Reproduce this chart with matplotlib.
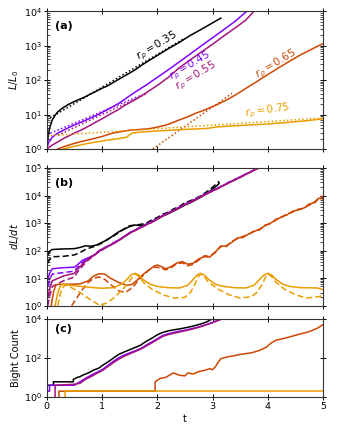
import numpy as np
import matplotlib
matplotlib.use("Agg")
import matplotlib.pyplot as plt

# colours picked off the gnuplot map, one per r_rho
radii = ["0.35", "0.45", "0.55", "0.65", "0.75"]
renk = [plt.cm.gnuplot(v) for v in [0.0, 0.25, 0.42, 0.65, 0.85]]

# ---- panel (a): L/L0 ----
ta_035 = [0, 0.02, 0.05, 0.1, 0.15, 0.2, 0.3, 0.4, 0.5, 0.6, 0.7, 0.8, 0.9, 1.0, 1.1, 1.2, 1.3, 1.4,
          1.5, 1.6, 1.7, 1.8, 2.0, 2.2, 2.4, 2.6, 2.8, 3.0, 3.15]
La_035 = [1, 2, 4, 7, 9.5, 12, 16, 20, 24, 28, 33, 40, 48, 58, 68, 85, 105, 130,
          160, 200, 260, 330, 520, 820, 1250, 2000, 3000, 4600, 6300]
ta_045 = [0, 0.03, 0.1, 0.2, 0.3, 0.4, 0.5, 0.6, 0.7, 0.8, 0.9, 1.0, 1.1, 1.2, 1.3, 1.4, 1.5, 1.6,
          1.7, 1.8, 2.0, 2.2, 2.4, 2.6, 2.8, 3.0, 3.2, 3.4, 3.62]
La_045 = [1, 1.5, 2.2, 2.9, 3.5, 4.2, 5, 5.8, 6.8, 8, 9.5, 11.5, 14, 17, 21, 27, 35, 45,
          57, 72, 120, 200, 340, 580, 1000, 1700, 2900, 5000, 10000]
ta_055 = [0, 0.1, 0.2, 0.3, 0.4, 0.5, 0.6, 0.7, 0.8, 0.9, 1.0, 1.1, 1.2, 1.3, 1.4, 1.5, 1.6, 1.7,
          1.8, 2.0, 2.2, 2.4, 2.6, 2.8, 3.0, 3.2, 3.4, 3.6, 3.75]
La_055 = [1, 1.3, 1.6, 2.0, 2.4, 2.9, 3.4, 4.1, 5, 6.2, 7.5, 9.3, 11.5, 14, 18, 22, 27, 34,
          43, 70, 120, 230, 390, 660, 1100, 1900, 3200, 5500, 10000]
ta_065 = [0.2, 0.3, 0.4, 0.5, 0.6, 0.7, 0.8, 0.9, 1.0, 1.1, 1.2, 1.3, 1.4, 1.5, 1.6, 1.7, 1.8, 1.9,
          2.0, 2.1, 2.2, 2.3, 2.4, 2.5, 2.6, 2.7, 2.8, 2.9, 3.0, 3.1, 3.2, 3.3, 3.4, 3.5, 3.6, 3.7,
          3.8, 3.9, 4.0, 4.2, 4.4, 4.6, 4.8, 5.0]
La_065 = [1, 1.15, 1.3, 1.45, 1.6, 1.75, 1.9, 2.1, 2.3, 2.6, 2.9, 3.1, 3.3, 3.5, 3.6, 3.7, 3.8, 4.0,
          4.3, 4.7, 5.2, 6.0, 7.0, 8.0, 9.3, 11, 12.5, 14.5, 17, 20, 24, 29, 36, 45, 57, 72,
          90, 115, 145, 230, 360, 550, 800, 1150]
ta_075 = [0.3, 0.4, 0.5, 0.7, 0.9, 1.1, 1.3, 1.45, 1.5, 1.55, 1.7, 1.9, 2.1, 2.3, 2.5, 2.7, 2.9,
          3.1, 3.3, 3.5, 3.7, 3.9, 4.1, 4.3, 4.5, 4.7, 4.9, 5.0]
La_075 = [1, 1.1, 1.2, 1.4, 1.6, 1.8, 2.0, 2.2, 2.6, 2.9, 3.1, 3.25, 3.4, 3.55, 3.7, 3.8, 3.95,
          4.4, 4.6, 4.8, 5.0, 5.2, 5.5, 5.8, 6.2, 6.6, 7.2, 7.5]

# exponential fits (dotted): start/end time, value at start, decades per unit t
fit_t0 = [0.0, 0.0, 0.2, 1.92, 0.0]
fit_t1 = [2.5, 1.7, 1.8, 3.35, 5.0]
fit_A = [7.0, 2.6, 2.5, 1.0, 2.4]
fit_k = [0.95, 0.67, 0.75, 1.13, 0.104]

# ---- panel (b): dL/dt, solid and dashed ----
tb_035 = [0.02, 0.05, 0.1, 0.3, 0.5, 0.6, 0.7, 0.8, 0.9, 1.0, 1.1, 1.2, 1.3, 1.4, 1.5, 1.6, 1.7,
          1.8, 1.9, 2.0, 2.1, 2.2, 2.3, 2.4, 2.5, 2.6, 2.7, 2.8, 2.9, 3.0, 3.1, 3.12]
Vb_035 = [70, 95, 110, 115, 118, 130, 150, 145, 160, 200, 250, 350, 480, 600, 750, 850, 800,
          900, 1100, 1400, 1800, 2200, 2800, 3500, 4500, 5500, 7000, 9000, 12000, 17000, 25000, 28000]
Db_035 = [35, 48, 60, 62, 70, 85, 110, 130, 150, 190, 260, 330, 450, 620, 800, 850, 900,
          1000, 1300, 1600, 2100, 2500, 3300, 4000, 5500, 6500, 8000, 10000, 14000, 20000, 30000, 33000]

tb_045 = [0.02, 0.05, 0.1, 0.3, 0.5, 0.55, 0.65, 0.75, 0.85, 0.95, 1.05, 1.15, 1.25, 1.35, 1.5,
          1.7, 1.9, 2.1, 2.3, 2.5, 2.7, 2.9, 3.1, 3.3, 3.5, 3.7, 3.82]
Vb_045 = [9, 15, 22, 24, 25, 30, 45, 55, 65, 100, 130, 160, 210, 280, 450,
          700, 1150, 1850, 3000, 4800, 7500, 12000, 19000, 30000, 48000, 75000, 100000]
Db_045 = [5, 9, 14, 16, 18, 24, 38, 52, 70, 100, 125, 165, 215, 275, 440,
          720, 1100, 1900, 2900, 4900, 7400, 12500, 18500, 31000, 47000, 76000, 100000]
Vb_055 = [2, 4, 8, 12, 15, 20, 33, 50, 68, 95, 125, 155, 200, 270, 430,
          680, 1100, 1800, 2900, 4600, 7300, 11500, 18500, 29000, 46000, 73000, 98000]
Db_055 = [1, 2.2, 5, 8, 11, 16, 28, 45, 65, 92, 120, 160, 205, 265, 420,
          690, 1050, 1850, 2800, 4700, 7200, 12000, 18000, 30000, 45000, 74000, 97000]

tb_065 = [0.08, 0.12, 0.16, 0.2, 0.4, 0.6, 0.75, 0.85, 0.95, 1.05, 1.15, 1.3, 1.45, 1.55, 1.65,
          1.75, 1.85, 1.95, 2.0, 2.08, 2.15, 2.25, 2.35, 2.45, 2.55, 2.65, 2.75, 2.85, 2.95, 3.05,
          3.15, 3.25, 3.35, 3.45, 3.55, 3.65, 3.75, 3.85, 3.95, 4.05, 4.15, 4.25, 4.35, 4.45, 4.55,
          4.65, 4.75, 4.85, 4.92, 5.0]
Vb_065 = [1, 3, 5.5, 6, 6, 6.2, 8, 12, 14.5, 14, 10, 7, 5.5, 6, 9,
          14, 20, 28, 30, 26, 22, 26, 35, 40, 32, 35, 50, 60, 58, 90,
          140, 150, 200, 290, 300, 400, 490, 600, 800, 1000, 1300, 1700, 2000, 2700, 3000,
          3500, 4500, 6000, 8000, 7500]
td_065 = [0.45, 0.55, 0.65, 0.75, 0.85, 0.95, 1.05, 1.15, 1.3, 1.42, 1.55, 1.65, 1.75, 1.85, 1.95,
          2.05, 2.15, 2.25, 2.35, 2.45, 2.55, 2.65, 2.75, 2.85, 2.95, 3.05, 3.15, 3.25, 3.35, 3.45,
          3.55, 3.65, 3.75, 3.85, 3.95, 4.05, 4.15, 4.25, 4.35, 4.45, 4.55, 4.65, 4.75, 4.85, 4.95, 5.0]
Db_065 = [1, 2, 4, 7, 10, 11, 9, 6, 3.5, 3, 4.5, 8, 13, 20, 25,
          24, 20, 24, 33, 36, 28, 32, 45, 65, 62, 85, 150, 140, 220, 270,
          330, 380, 520, 560, 850, 950, 1400, 1600, 2200, 2500, 3200, 3400, 5000, 5500, 9000, 9500]

tb_075 = [0.15, 0.2, 0.25, 0.3, 0.5, 0.8, 1.0, 1.2, 1.35, 1.45, 1.52, 1.6, 1.67, 1.74, 1.87, 2.0,
          2.2, 2.4, 2.55, 2.65, 2.72, 2.78, 2.85, 2.93, 3.05, 3.2, 3.4, 3.6, 3.75, 3.85, 3.93, 4.0,
          4.07, 4.15, 4.27, 4.4, 4.6, 4.9, 5.0]
Vb_075 = [1, 3, 5.5, 6.0, 5.3, 4.6, 4.3, 4.5, 6, 9, 13, 15, 13, 9, 6, 5,
          4.5, 4.4, 5.5, 9, 13, 15, 13, 9, 6, 5, 4.5, 4.4, 5.5, 9, 13, 15,
          13, 9, 6, 5, 4.5, 4.4, 3.8]
td_075 = [0.2, 0.25, 0.3, 0.35, 0.45, 0.6, 0.8, 0.97, 1.1, 1.25, 1.4, 1.5, 1.56, 1.6, 1.66, 1.75,
          1.9, 2.1, 2.3, 2.5, 2.6, 2.68, 2.74, 2.78, 2.84, 2.93, 3.1, 3.3, 3.5, 3.7, 3.8, 3.9,
          3.96, 4.0, 4.06, 4.15, 4.3, 4.5, 4.7, 4.9, 5.0]
Db_075 = [1, 3, 5, 5.5, 4.5, 3, 1.6, 1.0, 1.3, 2.2, 4.5, 8, 12, 14, 12, 7,
          4, 2.5, 1.9, 2.0, 3, 6, 11, 14, 12, 7, 4, 2.5, 1.9, 2.1, 3, 6,
          11, 14, 12, 7, 4, 2.5, 1.9, 2.1, 2.3]

# ---- panel (c): bight count (early steps, then many small jumps) ----
tc_035 = [0, 0.12, 0.12, 0.48, 0.48, 0.55, 0.6, 0.65, 0.7, 0.75, 0.8, 0.85, 0.9, 0.95, 1.0, 1.1,
          1.2, 1.3, 1.4, 1.5, 1.6, 1.7, 1.8, 1.9, 2.0, 2.1, 2.2, 2.3, 2.4, 2.5, 2.6, 2.7, 2.8, 2.9, 3.0]
Nc_035 = [4, 4, 6, 6, 8, 10, 11, 13, 15, 17, 20, 24, 27, 31, 40, 60,
          95, 150, 200, 260, 340, 450, 700, 1000, 1500, 2000, 2400, 2700, 3000, 3400, 3900, 4600,
          5500, 7000, 10000]
tc_045 = [0, 0.05, 0.05, 0.5, 0.55, 0.6, 0.7, 0.8, 0.9, 1.0, 1.1, 1.2, 1.3, 1.4, 1.5, 1.6, 1.7,
          1.8, 1.9, 2.0, 2.1, 2.2, 2.3, 2.4, 2.5, 2.6, 2.7, 2.8, 2.9, 3.0, 3.1, 3.2]
Nc_045 = [2, 2, 4, 4, 5, 6, 9, 13, 18, 25, 40, 65, 100, 140, 180, 230, 300,
          450, 650, 950, 1400, 1700, 2000, 2300, 2600, 3000, 3500, 4200, 5200, 6500, 8500, 11000]
tc_055 = [0.15, 0.15, 0.5, 0.6, 0.7, 0.8, 0.9, 1.0, 1.1, 1.2, 1.3, 1.4, 1.5, 1.6, 1.7, 1.8, 1.9,
          2.0, 2.1, 2.2, 2.3, 2.4, 2.5, 2.6, 2.7, 2.8, 2.9, 3.0, 3.1, 3.2]
Nc_055 = [1, 4, 4.5, 5, 8, 11, 16, 22, 35, 55, 85, 120, 160, 210, 280, 400, 580,
          850, 1250, 1550, 1800, 2100, 2400, 2800, 3300, 4000, 5000, 6200, 8000, 10500]
tc_065 = [0.22, 0.22, 1.96, 1.96, 2.05, 2.15, 2.29, 2.4, 2.5, 2.55, 2.65, 2.75, 2.85, 2.95, 3.0,
          3.05, 3.1, 3.15, 3.25, 3.4, 3.5, 3.6, 3.7, 3.85, 3.98, 4.05, 4.15, 4.3, 4.45, 4.6, 4.7,
          4.8, 4.9, 5.0]
Nc_065 = [1, 2, 2, 6, 9, 10, 17, 13, 12, 17, 15, 20, 23, 28, 25,
          35, 60, 90, 110, 130, 150, 165, 180, 240, 360, 550, 800, 1000, 1300, 1700, 2000,
          2500, 3300, 5000]
tc_075 = [0.33, 0.33, 5.0]
Nc_075 = [1, 2, 2]


def eksen_ayarla(ax, ylim, etiket):
    ax.set_yscale('log')
    ax.set_xlim(0, 5)
    ax.set_ylim(*ylim)
    ax.set_ylabel(etiket, fontsize=7, labelpad=2)
    ax.tick_params(which='major', direction='inout', length=4, width=0.7,
                   top=True, right=True, labelsize=6.8, pad=1.5)
    ax.tick_params(which='minor', direction='in', length=2, width=0.5, top=True, right=True)
    ax.set_xticks([0, 1, 2, 3, 4, 5])
    for s in ax.spines.values():
        s.set_linewidth(0.8)
        s.set_color('#333333')


fig = plt.figure(figsize=(3.39, 4.33), dpi=100)
ax_a = fig.add_axes([0.138, 0.656, 0.815, 0.318])
ax_b = fig.add_axes([0.138, 0.294, 0.815, 0.318])
ax_c = fig.add_axes([0.138, 0.083, 0.815, 0.181])

# (a)
a_t = [ta_035, ta_045, ta_055, ta_065, ta_075]
a_L = [La_035, La_045, La_055, La_065, La_075]
for i in range(5):
    ax_a.plot(a_t[i], a_L[i], color=renk[i], lw=1.1)
    tt = np.linspace(fit_t0[i], fit_t1[i], 40)
    ax_a.plot(tt, fit_A[i] * 10 ** (fit_k[i] * (tt - fit_t0[i])),
              color=renk[i], lw=1.1, ls=(0, (1, 1.5)))

yazi_x = [2.0, 2.6, 2.7, 4.15, 4.0]
yazi_y = [1000, 260, 135, 300, 13]
yazi_aci = [31, 31, 31, 31, 8]
for i in range(5):
    ax_a.text(yazi_x[i], yazi_y[i], r'$r_\rho = %s$' % radii[i], color=renk[i],
              fontsize=7.5, rotation=yazi_aci[i], ha='center', va='center')
eksen_ayarla(ax_a, (1, 1e4), r'$L/L_0$')
ax_a.set_xticklabels([])

# (b)
b_sets = [(tb_035, Vb_035, tb_035, Db_035), (tb_045, Vb_045, tb_045, Db_045),
          (tb_045, Vb_055, tb_045, Db_055), (tb_065, Vb_065, td_065, Db_065),
          (tb_075, Vb_075, td_075, Db_075)]
for i, (t1, v1, t2, v2) in enumerate(b_sets):
    ax_b.plot(t1, v1, color=renk[i], lw=1.1)
    ax_b.plot(t2, v2, color=renk[i], lw=1.1, ls=(0, (4, 2)))
eksen_ayarla(ax_b, (1, 1e5), r'$dL/dt$')
ax_b.set_xticklabels([])

# (c)
c_t = [tc_035, tc_045, tc_055, tc_065, tc_075]
c_N = [Nc_035, Nc_045, Nc_055, Nc_065, Nc_075]
for i in range(5):
    ax_c.plot(c_t[i], c_N[i], color=renk[i], lw=1.1)
eksen_ayarla(ax_c, (1, 1e4), 'Bight Count')
ax_c.set_yticks([1, 1e2, 1e4])
ax_c.set_xlabel('t', fontsize=7, labelpad=2)

for ax, harf in zip([ax_a, ax_b, ax_c], ['(a)', '(b)', '(c)']):
    ax.text(0.03, 0.93, harf, transform=ax.transAxes, fontsize=8, fontweight='bold',
            ha='left', va='top')

fig.savefig('out.png', dpi=100)
